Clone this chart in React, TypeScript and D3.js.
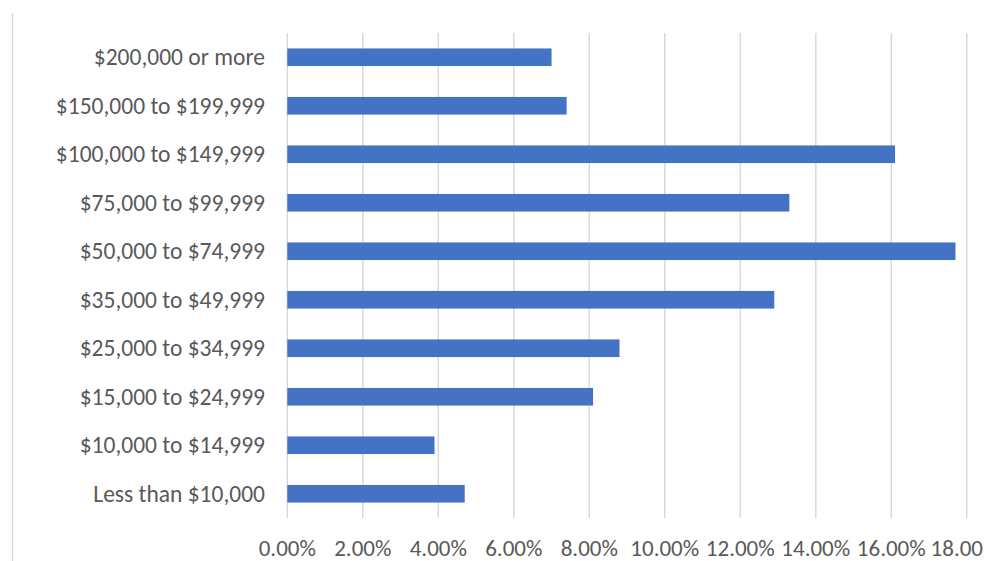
import React from "react";
import * as d3 from "d3";

const categories = [
  "$200,000 or more",
  "$150,000 to $199,999",
  "$100,000 to $149,999",
  "$75,000 to $99,999",
  "$50,000 to $74,999",
  "$35,000 to $49,999",
  "$25,000 to $34,999",
  "$15,000 to $24,999",
  "$10,000 to $14,999",
  "Less than $10,000",
];
const values = [7.0, 7.4, 16.1, 13.3, 17.7, 12.9, 8.8, 8.1, 3.9, 4.7];
const tickValues = [0, 2, 4, 6, 8, 10, 12, 14, 16, 18];
const tickLabels = ["0.00%", "2.00%", "4.00%", "6.00%", "8.00%", "10.00%", "12.00%", "14.00%", "16.00%", "18.00"];

const W = 1001;
const H = 561;
const FONT = "Carlito, Calibri, Lato, 'Open Sans', sans-serif";

export default function App() {
  const x = d3.scaleLinear().domain([0, 18]).range([287.3, 966.8]);
  const y = d3
    .scaleBand<string>()
    .domain(categories)
    .range([33, 518])
    .paddingInner(0.637)
    .paddingOuter(0.3185);

  return (
    <svg
      width={W}
      height={H}
      style={{ position: "absolute", left: 0, top: 0, background: "#fff" }}
      fontFamily={FONT}
    >
      <rect x={0} y={0} width={W} height={H} fill="#fff" />
      <line x1={12.5} x2={12.5} y1={13} y2={H} stroke="#d9d9d9" strokeWidth={1.5} />
      {tickValues.map((t) => (
        <line
          key={t}
          x1={x(t)}
          x2={x(t)}
          y1={33}
          y2={518}
          stroke="#d9d9d9"
          strokeWidth={1.5}
        />
      ))}
      {categories.map((c, i) => (
        <rect
          key={c}
          x={x(0)}
          y={y(c)!}
          width={x(values[i]) - x(0)}
          height={y.bandwidth()}
          fill="#4472c4"
        />
      ))}
      {categories.map((c) => (
        <text
          key={c}
          x={265}
          y={y(c)! + y.bandwidth() / 2}
          dy="0.35em"
          textAnchor="end"
          fontSize={23.5}
          fill="#595959"
        >
          {c}
        </text>
      ))}
      {tickValues.map((t, i) => (
        <text
          key={t}
          x={x(t)}
          y={555.5}
          dx={i === tickValues.length - 1 ? -10 : 0}
          textAnchor="middle"
          fontSize={23}
          fill="#595959"
        >
          {tickLabels[i]}
        </text>
      ))}
    </svg>
  );
}
